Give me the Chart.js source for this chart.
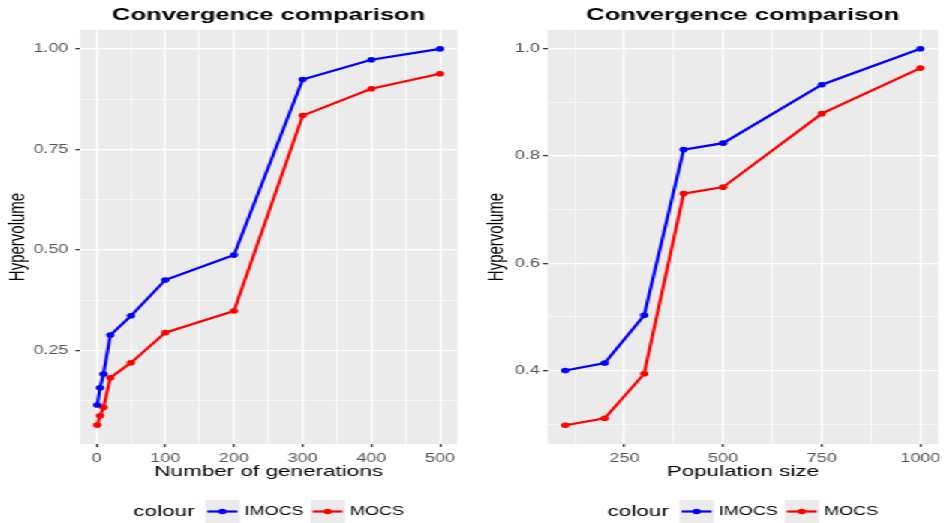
<!DOCTYPE html>
<html>
<head>
<meta charset="utf-8">
<title>Convergence comparison</title>
<script src="https://cdn.jsdelivr.net/npm/chart.js@4.4.1/dist/chart.umd.min.js"></script>
<style>
  html, body { margin: 0; padding: 0; background: #fff; overflow: hidden; }
  /* the source picture is stretched sideways, so draw narrow and stretch */
  #wrap { width: 631px; height: 523px; display: flex; transform: scaleX(1.50079); transform-origin: 0 0; }
  .panel { position: relative; height: 523px; }
  #left { width: 313px; }
  #right { width: 318px; }
</style>
</head>
<body>
<div id="wrap">
  <div class="panel" id="left"><canvas id="genChart"></canvas></div>
  <div class="panel" id="right"><canvas id="popChart"></canvas></div>
</div>
<script>
// left panel: hypervolume vs number of generations
const generations = [1, 5, 10, 20, 50, 100, 200, 300, 400, 500];
const genIMOCS = [0.114, 0.157, 0.191, 0.288, 0.336, 0.425, 0.487, 0.924, 0.973, 1.0];
const genMOCS = [0.064, 0.087, 0.108, 0.182, 0.219, 0.294, 0.348, 0.834, 0.901, 0.938];

// right panel: hypervolume vs population size
const popSizes = [100, 200, 300, 400, 500, 750, 1000];
const popIMOCS = [0.400, 0.414, 0.503, 0.812, 0.824, 0.933, 1.0];
const popMOCS = [0.298, 0.311, 0.394, 0.730, 0.742, 0.879, 0.964];

// ticks (major with labels, minor grid only)
const genXTicks = [0, 100, 200, 300, 400, 500];
const genXMinor = [50, 150, 250, 350, 450];
const genYTicks = [0.25, 0.5, 0.75, 1.0];
const genYLabels = ["0.25", "0.50", "0.75", "1.00"];
const genYMinor = [0.125, 0.375, 0.625, 0.875];

const popXTicks = [250, 500, 750, 1000];
const popXMinor = [125, 375, 625, 875];
const popYTicks = [0.4, 0.6, 0.8, 1.0];
const popYLabels = ["0.4", "0.6", "0.8", "1.0"];
const popYMinor = [0.3, 0.5, 0.7, 0.9];

const seriesNames = ["IMOCS", "MOCS"];
const seriesColors = ["#0000ff", "#ff0000"];

Chart.defaults.font.family = '"Liberation Sans", Arial, sans-serif';

const panelBg = {
  id: "panelBg",
  beforeDraw(chart) {
    const { ctx, chartArea: a } = chart;
    ctx.save();
    ctx.fillStyle = "#ebebeb";
    ctx.fillRect(a.left, a.top, a.right - a.left, a.bottom - a.top);
    ctx.restore();
  }
};

// ggplot style legend: "colour" then grey keys with line + dot
const ggLegend = {
  id: "ggLegend",
  afterDraw(chart) {
    const { ctx, chartArea: a } = chart;
    const sets = chart.data.datasets;
    const cy = 511.5;
    const keyW = 23, keyH = 23;
    ctx.save();
    ctx.textBaseline = "middle";
    ctx.textAlign = "left";
    ctx.font = '15px "Liberation Sans", Arial, sans-serif';
    const headW = ctx.measureText("colour").width;
    ctx.font = '12px "Liberation Sans", Arial, sans-serif';
    const labW = sets.map(d => ctx.measureText(d.label).width);
    let total = headW + 7;
    labW.forEach((w, i) => { total += keyW + 3.3 + w + (i < sets.length - 1 ? 4.5 : 0); });
    let x = (a.left + a.right) / 2 - total / 2;

    ctx.fillStyle = "#000";
    ctx.font = '15px "Liberation Sans", Arial, sans-serif';
    ctx.fillText("colour", x, cy);
    x += headW + 7;

    ctx.font = '12px "Liberation Sans", Arial, sans-serif';
    sets.forEach((d, i) => {
      ctx.fillStyle = "#ebebeb";
      ctx.fillRect(x, cy - keyH / 2, keyW, keyH);
      ctx.strokeStyle = d.borderColor;
      ctx.lineWidth = 2.2;
      ctx.beginPath();
      ctx.moveTo(x + 1.5, cy);
      ctx.lineTo(x + keyW - 1.5, cy);
      ctx.stroke();
      ctx.fillStyle = d.borderColor;
      ctx.beginPath();
      ctx.arc(x + keyW / 2, cy, 2.8, 0, Math.PI * 2);
      ctx.fill();
      x += keyW + 3.3;
      ctx.fillStyle = "#000";
      ctx.fillText(d.label, x, cy);
      x += labW[i] + 4.5;
    });
    ctx.restore();
  }
};

function ggScale(major, labels, minor, range, titleText, opts) {
  const all = major.concat(minor).sort((p, q) => p - q);
  const majorIndex = v => major.findIndex(m => Math.abs(m - v) < 1e-9);
  const isMajor = c => c.tick && majorIndex(c.tick.value) >= 0;
  return {
    type: "linear",
    min: range[0],
    max: range[1],
    afterBuildTicks: s => { s.ticks = all.map(v => ({ value: v })); },
    afterFit: opts.fit,
    ticks: {
      autoSkip: false,
      maxRotation: 0,
      color: "#555",
      padding: opts.tickPad,
      font: { size: 12 },
      callback: v => {
        const i = majorIndex(v);
        return i < 0 ? "" : labels[i];
      }
    },
    grid: {
      color: "#ffffff",
      lineWidth: c => (isMajor(c) ? 1.3 : 0.6),
      tickColor: c => (isMajor(c) ? "#333" : "rgba(0,0,0,0)"),
      tickLength: 3
    },
    border: { display: false },
    title: {
      display: true,
      text: titleText,
      color: "#000",
      font: { size: 15 },
      padding: opts.titlePad
    }
  };
}

function makeSets(xs, ys1, ys2) {
  return [ys1, ys2].map((ys, k) => ({
    label: seriesNames[k],
    data: xs.map((x, i) => ({ x: x, y: ys[i] })),
    borderColor: seriesColors[k],
    backgroundColor: seriesColors[k],
    borderWidth: 2.2,
    pointRadius: 2.8,
    pointBorderWidth: 0,
    tension: 0
  }));
}

function makeChart(id, sets, xScale, yScale, padRight) {
  return new Chart(document.getElementById(id), {
    type: "line",
    data: { datasets: sets },
    options: {
      responsive: true,
      maintainAspectRatio: false,
      animation: false,
      layout: { padding: { left: 0, right: padRight, top: 0, bottom: 40 } },
      plugins: {
        legend: { display: false },
        tooltip: { enabled: false },
        title: {
          display: true,
          text: "Convergence comparison",
          fullSize: false,
          color: "#000",
          font: { size: 17, weight: "bold" },
          padding: { top: 5.5, bottom: 4.1 }
        }
      },
      scales: { x: xScale, y: yScale }
    },
    plugins: [panelBg, ggLegend]
  });
}

makeChart(
  "genChart",
  makeSets(generations, genIMOCS, genMOCS),
  ggScale(genXTicks, genXTicks.map(String), genXMinor, [-24, 525], "Number of generations",
    { fit: s => { s.height = 39; }, tickPad: 4, titlePad: { top: 0, bottom: 2 } }),
  ggScale(genYTicks, genYLabels, genYMinor, [0.017, 1.047], "Hypervolume",
    { fit: s => { s.width = 53.3; }, tickPad: 4.8, titlePad: { top: 2.7, bottom: 0 } }),
  8.3
);

makeChart(
  "popChart",
  makeSets(popSizes, popIMOCS, popMOCS),
  ggScale(popXTicks, popXTicks.map(String), popXMinor, [55, 1045], "Population size",
    { fit: s => { s.height = 39; }, tickPad: 4, titlePad: { top: 0, bottom: 2 } }),
  ggScale(popYTicks, popYLabels, popYMinor, [0.263, 1.035], "Hypervolume",
    { fit: s => { s.width = 51.8; }, tickPad: 2.1, titlePad: { top: 9.3, bottom: 0 } }),
  5.8
);
</script>
</body>
</html>
